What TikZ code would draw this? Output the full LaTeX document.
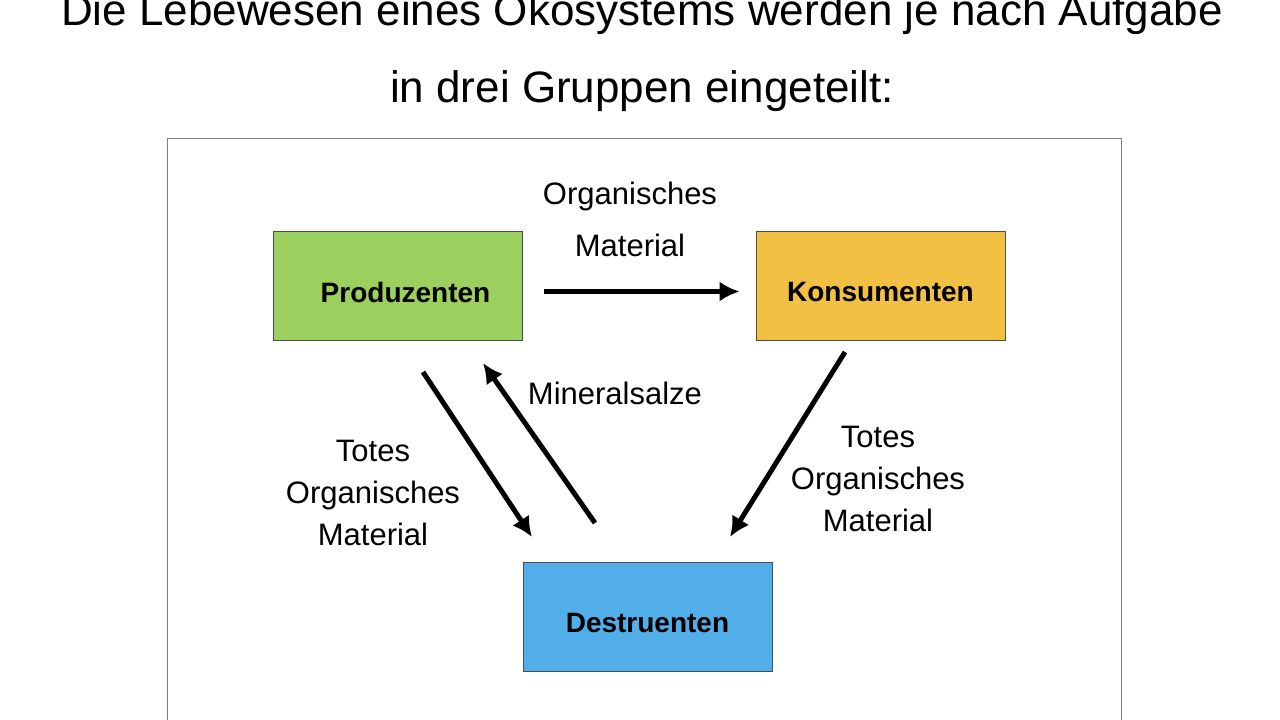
\documentclass[tikz,border=0pt]{standalone}
\usepackage{fontspec}
\setmainfont{Liberation Sans}
\usetikzlibrary{arrows.meta}
\definecolor{prodgreen}{HTML}{9BCF5E}
\definecolor{konsorange}{HTML}{F2C144}
\definecolor{destblue}{HTML}{52AEE8}
\tikzset{
  group/.style={draw=black!70,line width=0.8pt,minimum width=249pt,minimum height=109pt,font=\fontsize{28}{32}\selectfont\bfseries,inner sep=0pt,text depth=0pt},
  flow/.style={line width=5pt,-{Latex[length=20pt,width=20pt]}},
  label/.style={font=\fontsize{31}{42}\selectfont,align=center},
}

\begin{document}
\begin{tikzpicture}[x=1pt,y=-1pt]
  \useasboundingbox (0,0) rectangle (1280,720);
  \fill[white] (0,0) rectangle (1280,720);
  % title
  \node[font=\fontsize{44}{48}\selectfont] (title1) at (642,12) {Die Lebewesen eines Ökosystems werden je nach Aufgabe};
  \node[font=\fontsize{44}{48}\selectfont] (title2) at (642,91) {in drei Gruppen eingeteilt:};
  \draw[black!50,line width=0.8pt] (167,740) -- (167,138) -- (1121,138) -- (1121,740);

  % groups
  \node[group,fill=prodgreen] (prod) at (397.5,285.5) {\raisebox{-13pt}{\hspace{16pt}Produzenten}};
  \node[group,fill=konsorange] (kons) at (880.5,285.5) {\raisebox{-13pt}{Konsumenten}};
  \node[group,fill=destblue] (dest) at (647.5,616.5) {\raisebox{-13pt}{Destruenten}};

  \coordinate (p_out) at (423,372);
  \coordinate (d_in) at (532,537);
  \coordinate (d_out) at (595,523);
  \coordinate (p_in) at (483,363);
  \coordinate (k_out) at (845,352);
  \coordinate (d_in2) at (730,537);

  \draw[flow,shorten <=22pt,shorten >=16pt] ([yshift=-6pt]prod.east) -- ([yshift=-6pt]kons.west);
  \draw[flow] (p_out) -- (d_in);
  \draw[flow] (d_out) -- (p_in);
  \draw[flow] (k_out) -- (d_in2);

  % labels
  \node[label,font=\fontsize{31}{52}\selectfont] (l_org) at (630,219) {Organisches\\Material};
  \node[label] (l_min) at (615,393) {Mineralsalze};
  \node[label] (l_tot1) at (373,493) {Totes\\Organisches\\Material};
  \node[label] (l_tot2) at (878,479) {Totes\\Organisches\\Material};
\end{tikzpicture}
\end{document}
